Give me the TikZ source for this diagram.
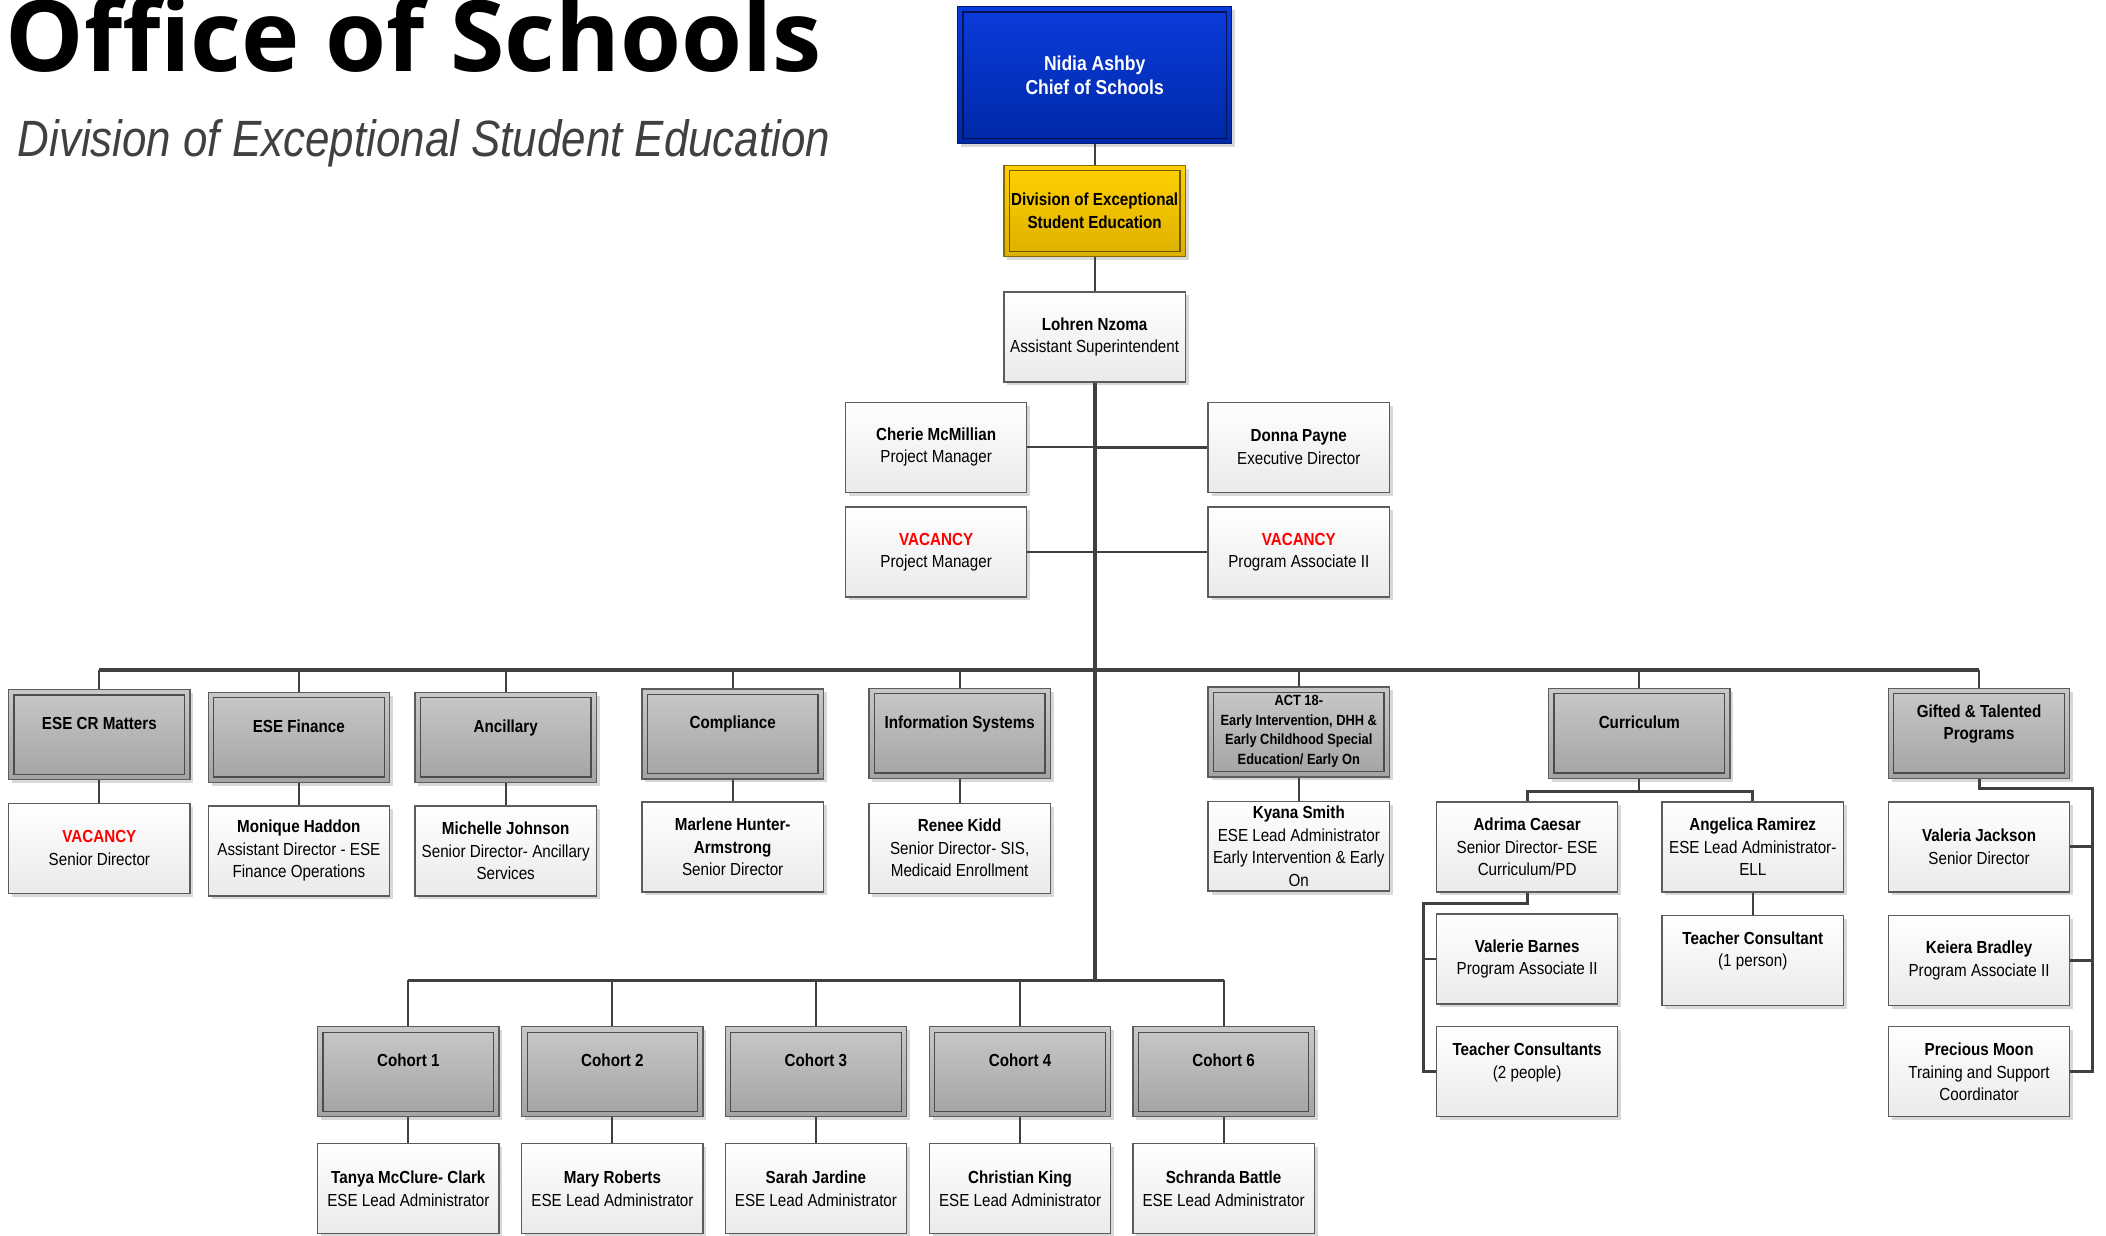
\documentclass[tikz,border=0pt]{standalone}
\usepackage{fontspec}
\setmainfont[FakeStretch=0.87]{Liberation Sans}
\newfontfamily\titlefont{Open Sans}
\newfontfamily\subtitlefont[FakeStretch=0.86]{Liberation Sans}
\usetikzlibrary{shadows}
\definecolor{linegray}{HTML}{404040}
\definecolor{boxedge}{HTML}{5C5C5C}
\definecolor{personbot}{HTML}{EAEAEA}
\definecolor{depttop}{HTML}{C8C8C8}
\definecolor{deptbot}{HTML}{A3A3A3}
\definecolor{chieftop}{HTML}{0A3CDC}
\definecolor{chiefbot}{HTML}{0028A6}
\definecolor{desetop}{HTML}{FFD000}
\definecolor{desebot}{HTML}{DDB000}
\definecolor{vacred}{HTML}{FF0000}
\tikzset{
  innerframe/.style={path picture={\draw[#1, line width=.9pt]
      ([shift={(4pt,-4pt)}]path picture bounding box.north west) rectangle
      ([shift={(-4pt,4pt)}]path picture bounding box.south east);}},
  orgbox/.style={draw=boxedge, line width=1pt, minimum width=135pt, minimum height=67pt,
    align=center, inner sep=1pt, font=\fontsize{13}{16.7}\selectfont,
    drop shadow={shadow xshift=2.5pt, shadow yshift=-2.5pt, fill=black!30, opacity=.5}},
  person/.style={orgbox, top color=white, bottom color=personbot},
  dept/.style={orgbox, top color=depttop, bottom color=deptbot, innerframe=black!70,
    font=\bfseries\fontsize{13}{16.7}\selectfont, text depth=17pt},
  link/.style={draw=linegray, line width=1.5pt},
  midlink/.style={draw=linegray, line width=2.2pt},
  trunk/.style={draw=linegray, line width=3pt}
}
\newcommand{\vacancy}{\textcolor{vacred}{\textbf{VACANCY}}}
\begin{document}
\begin{tikzpicture}[x=1pt, y=-1pt]
  \useasboundingbox (0,0) rectangle (1568,919.6);
  \node[anchor=base west, inner sep=0, font=\titlefont\bfseries\fontsize{73.5}{73.5}\selectfont] (title) at (4,53) {Office of Schools};
  \node[anchor=base west, inner sep=0, text=black!75, font=\subtitlefont\itshape\fontsize{38}{38}\selectfont] (subtitle) at (13,116.6) {Division of Exceptional Student Education};

  \node[orgbox, minimum width=204pt, minimum height=102pt, top color=chieftop, bottom color=chiefbot, draw=chiefbot!70!black, innerframe=chiefbot!50!black, text=white, font=\bfseries\fontsize{15}{18}\selectfont] (nidia) at (815,56) {Nidia Ashby\\Chief of Schools};
  \node[orgbox, minimum height=68pt, top color=desetop, bottom color=desebot, draw=desebot!60!black, innerframe=desebot!50!black, font=\bfseries\fontsize{13}{16.7}\selectfont] (dese) at (815,157) {Division of Exceptional\\Student Education};
  \node[person] (lohren) at (815,251) {\textbf{Lohren Nzoma}\\Assistant Superintendent};

  \node[person] (cherie) at (697,333) {\textbf{Cherie McMillian}\\Project Manager};
  \node[person] (donna) at (967,333) {\textbf{Donna Payne}\\Executive Director};
  \node[person] (vacpm) at (697,411) {\vacancy\\Project Manager};
  \node[person] (vacpa) at (967,411) {\vacancy\\Program Associate II};

  \node[dept] (crm) at (74,547) {ESE CR Matters};
  \node[dept] (fin) at (222.5,549) {ESE Finance};
  \node[dept] (anc) at (376.5,549) {Ancillary};
  \node[dept] (comp) at (545.5,546.5) {Compliance};
  \node[dept] (info) at (714.5,546) {Information Systems};
  \node[dept, text depth=3pt, font=\bfseries\fontsize{11}{14.5}\selectfont] (act) at (967,545) {ACT 18-\\Early Intervention, DHH \&\\Early Childhood Special\\Education/ Early On};
  \node[dept] (curr) at (1220.5,546) {Curriculum};
  \node[dept] (gift) at (1473.5,546) {Gifted \& Talented\\Programs};

  \node[person] (crmp) at (74,631.5) {\vacancy\\Senior Director};
  \node[person] (finp) at (222.5,633.5) {\textbf{Monique Haddon}\\Assistant Director - ESE\\Finance Operations};
  \node[person] (ancp) at (376.5,633.5) {\textbf{Michelle Johnson}\\Senior Director- Ancillary\\Services};
  \node[person] (compp) at (545.5,630.5) {\textbf{Marlene Hunter-}\\\textbf{Armstrong}\\Senior Director};
  \node[person] (infop) at (714.5,631.5) {\textbf{Renee Kidd}\\Senior Director- SIS,\\Medicaid Enrollment};
  \node[person] (kyana) at (967,630) {\textbf{Kyana Smith}\\ESE Lead Administrator\\Early Intervention \& Early\\On};
  \node[person] (adrima) at (1137,630.5) {\textbf{Adrima Caesar}\\Senior Director- ESE\\Curriculum/PD};
  \node[person] (angelica) at (1305,630.5) {\textbf{Angelica Ramirez}\\ESE Lead Administrator-\\ELL};
  \node[person] (valeria) at (1473.5,630.5) {\textbf{Valeria Jackson}\\Senior Director};
  \node[person] (barnes) at (1137,714) {\textbf{Valerie Barnes}\\Program Associate II};
  \node[person] (tcon1) at (1305,715) {\textbf{Teacher Consultant}\\(1 person)\\\mbox{}};
  \node[person] (keiera) at (1473.5,715) {\textbf{Keiera Bradley}\\Program Associate II};
  \node[person] (tcons) at (1137,798) {\textbf{Teacher Consultants}\\(2 people)\\\mbox{}};
  \node[person] (moon) at (1473.5,798) {\textbf{Precious Moon}\\Training and Support\\Coordinator};

  \foreach \i/\x/\who in {1/304/Tanya McClure- Clark, 2/456/Mary Roberts, 3/607.5/Sarah Jardine, 4/759.5/Christian King, 6/911/Schranda Battle} {
    \node[dept] (coh\i) at (\x,798) {Cohort \i};
    \node[person] (lead\i) at (\x,885) {\textbf{\who}\\ESE Lead Administrator};
    \draw[link] (coh\i) -- (lead\i);
  }

  \coordinate (bus) at (815,499);
  \coordinate (cbus) at (815,730);
  \coordinate (currj) at (1220.5,589);
  \coordinate (adj) at (1060,673);
  \coordinate (gj) at (1558,587);

  \draw[link] (nidia) -- (dese);
  \draw[link] (dese) -- (lohren);
  \draw[trunk] (lohren.south) -- (cbus);
  \draw[link] (cherie.east) -- (donna.west);
  \draw[midlink] (cherie.east -| lohren.south) -- (donna.west);
  \draw[midlink] (vacpm.east) -- (vacpa.west);
  \draw[trunk] (crm.north |- bus) -- (gift.north |- bus);
  \foreach \d in {crm,fin,anc,comp,info,act,curr,gift} {
    \draw[link] (\d.north) -- (\d.north |- bus);
  }
  \foreach \d/\p in {crm/crmp,fin/finp,anc/ancp,comp/compp,info/infop,act/kyana} {
    \draw[link] (\d) -- (\p);
  }
  \draw[link] (curr.south) -- (currj);
  \draw[midlink] (adrima.north) |- (currj) -| (angelica.north);
  \draw[link] (angelica) -- (tcon1);
  \draw[midlink] (adrima.south) |- (adj) |- (tcons.west);
  \draw[midlink] (adj |- barnes.west) -- (barnes.west);
  \draw[midlink] (gift.south) |- (gj) |- (moon.east);
  \draw[midlink] (gj |- valeria.east) -- (valeria.east);
  \draw[midlink] (gj |- keiera.east) -- (keiera.east);
  \draw[midlink] (coh1.north |- cbus) -- (coh6.north |- cbus);
  \foreach \i in {1,2,3,4,6} {
    \draw[link] (coh\i.north) -- (coh\i.north |- cbus);
  }
\end{tikzpicture}
\end{document}
